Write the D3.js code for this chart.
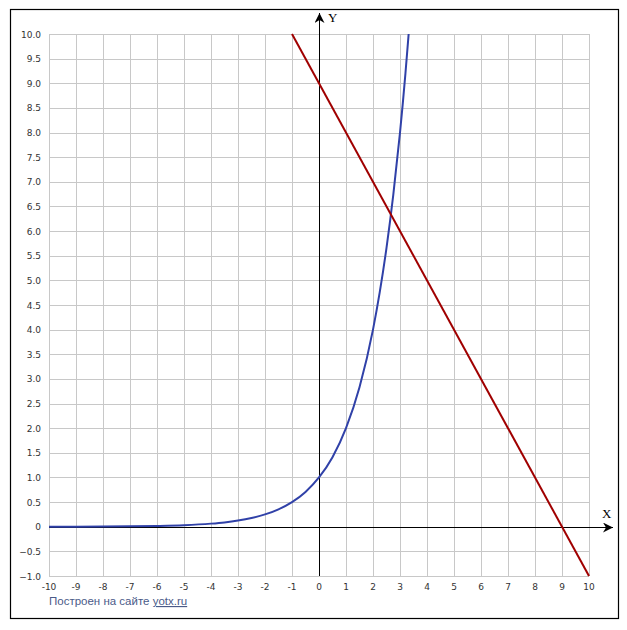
<!DOCTYPE html>
<html>
<head>
<meta charset="utf-8">
<script src="https://cdn.jsdelivr.net/npm/d3@7"></script>
<style>
  body { margin: 0; background: #fff; }
</style>
</head>
<body>
<div class="canvas"></div>
<script>
// tick values
const xTicks = [-10, -9, -8, -7, -6, -5, -4, -3, -2, -1, 0, 1, 2, 3, 4, 5, 6, 7, 8, 9, 10]
const yTicks = [-1, -0.5, 0, 0.5, 1, 1.5, 2, 2.5, 3, 3.5, 4, 4.5, 5, 5.5, 6, 6.5, 7, 7.5, 8, 8.5, 9, 9.5, 10]

// blue curve
const blueX = [-10, -9, -8, -7, -6, -5, -4, -3.5, -3, -2.5, -2, -1.5, -1, -0.5, 0, 0.5, 1, 1.5, 2, 2.25, 2.5, 2.75, 3, 3.1, 3.2, 3.32]
const blueY = [0.001, 0.002, 0.004, 0.008, 0.016, 0.031, 0.063, 0.088, 0.125, 0.177, 0.25, 0.354, 0.5, 0.707, 1, 1.41, 2, 2.83, 4, 4.76, 5.66, 6.73, 8, 8.57, 9.19, 10]

// red line
const redX = [-1, 10]
const redY = [10, -1]

const W = 627, H = 630
const plot = { left: 49, right: 589, top: 34, bottom: 576 }

const svg = d3.select('.canvas')
    .append('svg')
    .attr('width', W)
    .attr('height', H)

svg.append('rect')
    .attr('width', W).attr('height', H)
    .attr('fill', '#fff')

// frame
svg.append('rect')
    .attr('x', 10.5).attr('y', 9.5)
    .attr('width', 608).attr('height', 609)
    .attr('fill', 'none')
    .attr('stroke', '#000')
    .attr('stroke-width', 1.2)

// scales
const x = d3.scaleLinear().domain([-10, 10]).range([plot.left, plot.right])
const y = d3.scaleLinear().domain([-1, 10]).range([plot.bottom, plot.top])

// grid
const grid = svg.append('g')
    .attr('stroke', '#c8c8c8')
    .attr('stroke-width', 1)

grid.selectAll('.vg')
    .data(xTicks)
    .enter().append('line')
        .attr('x1', d => Math.round(x(d)) + 0.5)
        .attr('x2', d => Math.round(x(d)) + 0.5)
        .attr('y1', y(10))
        .attr('y2', y(-1))

grid.selectAll('.hg')
    .data(yTicks)
    .enter().append('line')
        .attr('x1', x(-10))
        .attr('x2', x(10))
        .attr('y1', d => Math.round(y(d)) + 0.5)
        .attr('y2', d => Math.round(y(d)) + 0.5)

// tick labels
const fmtY = d => d === 0 ? '0' : d3.format('.1f')(d)

svg.append('g').selectAll('text')
    .data(yTicks)
    .enter().append('text')
        .attr('x', plot.left - 8)
        .attr('y', d => y(d) + 3.5)
        .attr('text-anchor', 'end')
        .attr('font-family', 'DejaVu Sans, sans-serif')
        .attr('font-size', 9)
        .attr('fill', '#333')
        .text(fmtY)

svg.append('g').selectAll('text')
    .data(xTicks)
    .enter().append('text')
        .attr('x', d => x(d))
        .attr('y', plot.bottom + 14)
        .attr('text-anchor', 'middle')
        .attr('font-family', 'DejaVu Sans, sans-serif')
        .attr('font-size', 9)
        .attr('fill', '#333')
        .text(d => d)

// axes with arrows
svg.append('defs').append('marker')
    .attr('id', 'arrow')
    .attr('viewBox', '0 0 10 10')
    .attr('refX', 10).attr('refY', 5)
    .attr('markerWidth', 10).attr('markerHeight', 10)
    .attr('markerUnits', 'userSpaceOnUse')
    .attr('orient', 'auto')
    .append('path')
        .attr('d', 'M0,0 L10,5 L0,10 L3,5 Z')
        .attr('fill', '#000')

svg.append('line')
    .attr('x1', x(-10)).attr('x2', 613)
    .attr('y1', Math.round(y(0)) + 0.5).attr('y2', Math.round(y(0)) + 0.5)
    .attr('stroke', '#000')
    .attr('marker-end', 'url(#arrow)')

svg.append('line')
    .attr('x1', Math.round(x(0)) + 0.5).attr('x2', Math.round(x(0)) + 0.5)
    .attr('y1', y(-1)).attr('y2', 13)
    .attr('stroke', '#000')
    .attr('marker-end', 'url(#arrow)')

svg.append('text')
    .attr('x', 602).attr('y', 518)
    .attr('font-family', 'Liberation Serif, serif')
    .attr('font-size', 13)
    .text('X')

svg.append('text')
    .attr('x', 328).attr('y', 22)
    .attr('font-family', 'Liberation Serif, serif')
    .attr('font-size', 13)
    .text('Y')

// curves
const line = d3.line()
    .curve(d3.curveMonotoneX)
    .x(d => x(d[0]))
    .y(d => y(d[1]))

svg.append('path')
    .datum(d3.zip(blueX, blueY))
    .attr('fill', 'none')
    .attr('stroke', '#3041a8')
    .attr('stroke-width', 2)
    .attr('d', line)

svg.append('path')
    .datum(d3.zip(redX, redY))
    .attr('fill', 'none')
    .attr('stroke', '#a00000')
    .attr('stroke-width', 2)
    .attr('d', line)

// footer
const foot = svg.append('text')
    .attr('x', plot.left)
    .attr('y', 605)
    .attr('font-family', 'Liberation Sans, Arial, sans-serif')
    .attr('font-size', 11.5)
    .attr('fill', '#4a5a88')
foot.append('tspan').text('Построен на сайте ')
foot.append('tspan').attr('text-decoration', 'underline').text('yotx.ru')
</script>
</body>
</html>
